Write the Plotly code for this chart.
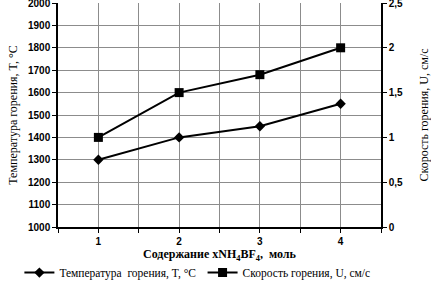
import plotly.graph_objects as go

x_vals = [1, 2, 3, 4]
temperature = [1300, 1400, 1450, 1550]
speed = [1.0, 1.5, 1.7, 2.0]
x_tickvals = [0.5, 1, 1.5, 2, 2.5, 3, 3.5, 4, 4.5]
x_ticklabels = ["", "1", "", "2", "", "3", "", "4", ""]
y2_ticks = [0, 0.5, 1, 1.5, 2, 2.5]
y2_labels = ["0", "0,5", "1", "1,5", "2", "2,5"]

serif = "Liberation Serif"
tickfont = dict(family="Liberation Sans", size=10, color="black", weight="bold")
legfont = dict(family=serif, size=11.5, color="black")
fig = go.Figure()
fig.add_trace(go.Scatter(x=x_vals, y=temperature, mode="lines+markers",
                         name="Температура  горения, T, °C", legend="legend",
                         line=dict(color="black", width=2),
                         marker=dict(symbol="diamond", size=8, color="black")))
fig.add_trace(go.Scatter(x=x_vals, y=speed, mode="lines+markers", yaxis="y2",
                         name="Скорость горения, U, см/с", legend="legend2",
                         line=dict(color="black", width=2),
                         marker=dict(symbol="square", size=9, color="black")))

grid = "#8c8c8c"
fig.update_layout(
    width=431, height=290,
    margin=dict(l=58, r=50, t=3, b=63, autoexpand=False),
    plot_bgcolor="white", paper_bgcolor="white",
    showlegend=True,
    legend=dict(orientation="h", xref="container", x=0.045, xanchor="left",
                yref="container", y=0.01, yanchor="bottom", itemwidth=30,
                font=legfont, bgcolor="rgba(0,0,0,0)"),
    legend2=dict(orientation="h", xref="container", x=0.47, xanchor="left",
                 yref="container", y=0.01, yanchor="bottom", itemwidth=30,
                 font=legfont, bgcolor="rgba(0,0,0,0)"),
    xaxis=dict(range=[0.5, 4.5], tickvals=x_tickvals, ticktext=x_ticklabels,
               showgrid=True, gridcolor=grid, gridwidth=1,
               showline=True, linecolor="black", linewidth=1.5,
               ticks="outside", ticklen=4, tickcolor="black", tickfont=tickfont,
               zeroline=False),
    yaxis=dict(range=[1000, 2000], dtick=100, showgrid=True, gridcolor=grid, gridwidth=1,
               showline=True, linecolor="black", linewidth=1.5, ticks="outside", ticklen=4,
               tickcolor="black", tickfont=tickfont, ticklabeloverflow="allow",
               title=dict(text="Температура горения, T, °C",
                          font=dict(family=serif, size=12, color="black"), standoff=8),
               zeroline=False),
    yaxis2=dict(range=[0, 2.5], overlaying="y", side="right", tickvals=y2_ticks,
                ticktext=y2_labels, showgrid=False, showline=True, linecolor="black",
                linewidth=1.5, ticks="outside", ticklen=4, tickcolor="black",
                tickfont=tickfont, ticklabeloverflow="allow",
                title=dict(text="Скорость горения, U, см/с",
                           font=dict(family=serif, size=12, color="black"), standoff=18),
                zeroline=False),
    annotations=[dict(text="Содержание xNH<sub>4</sub>BF<sub>4</sub>,  моль",
                      xref="paper", yref="paper", x=0.5, y=-0.125,
                      xanchor="center", yanchor="middle", showarrow=False,
                      font=dict(family=serif, size=12, color="black", weight="bold"))],
)
fig.write_html("out.html", config={"displayModeBar": False},
               post_script="document.body.style.margin='0';")
